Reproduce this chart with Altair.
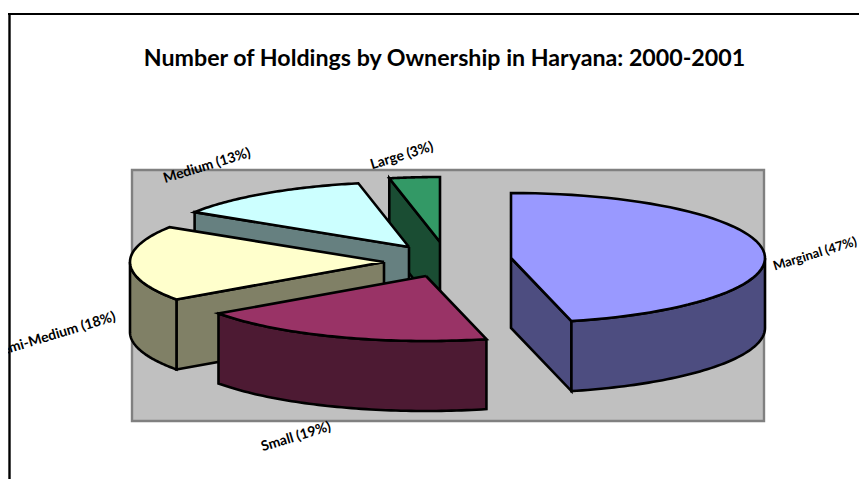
import math
import altair as alt
import pandas as pd

# --- values -----------------------------------------------------------------
categories = ["Marginal", "Small", "Semi-Medium", "Medium", "Large"]
shares = [46.2, 19.05, 18.8, 12.8, 3.2]
labels = ["Marginal (47%)", "Small (19%)", "Semi-Medium (18%)", "Medium (13%)", "Large (3%)"]
title_text = "Number of Holdings by Ownership in Haryana: 2000-2001"

# --- styles -----------------------------------------------------------------
top_colors = ["#9999FF", "#993366", "#FFFFCC", "#CCFFFF", "#339966"]
side_colors = ["#4D4D80", "#4D1A33", "#808066", "#668080", "#1A4D33"]
FONT = "Lato"

# --- layout (page pixels) ---------------------------------------------------
apex_x = [511, 426, 384, 409, 440]
apex_y = [258, 276, 262, 247, 242]
label_x = [815, 296, 55, 207, 402]
label_y = [254, 437, 335, 166, 156]
label_size = [13, 14, 14, 14, 14]
RX, RY, DEPTH = 254, 65, 70
W, H = 851, 471

xs = alt.X("x:Q", scale=alt.Scale(domain=[8, 8 + W], nice=False, zero=False), axis=None)
ys = alt.Y("y:Q", scale=alt.Scale(domain=[8 + H, 8], nice=False, zero=False), axis=None)


def rim(cx, cy, a0, a1, dy=0, n=60):
    out = []
    for i in range(n + 1):
        t = math.radians(a0 + (a1 - a0) * i / n)
        out.append((cx + RX * math.sin(t), cy - RY * math.cos(t) + dy))
    return out


def poly(points, color):
    points = list(points) + [points[0]]
    df = pd.DataFrame({"x": [p[0] for p in points], "y": [p[1] for p in points],
                       "i": list(range(len(points)))})
    return alt.Chart(df).mark_line(fill=color, stroke="black", strokeWidth=2.6,
                                   strokeJoin="miter", clip=True).encode(
        x=xs, y=ys, order="i:Q")


layers = []
plate = pd.DataFrame({"x": [132], "x2": [764], "y": [170], "y2": [421]})
layers.append(alt.Chart(plate).mark_rect(fill="#C0C0C0", stroke="#808080", strokeWidth=2.4).encode(
    x=xs, y=ys, x2="x2:Q", y2="y2:Q"))

total = sum(shares)
bounds = [0.0]
for s in shares:
    bounds.append(bounds[-1] + s / total * 360)

# painter's order: back slices first
for k in [4, 3, 2, 1, 0]:
    a0, a1 = bounds[k], bounds[k + 1]
    cx, cy = apex_x[k], apex_y[k]
    # flat cut faces that look toward the viewer
    if math.sin(math.radians(a0)) < -1e-6:
        p = rim(cx, cy, a0, a0, n=1)[0]
        layers.append(poly([(cx, cy), p, (p[0], p[1] + DEPTH), (cx, cy + DEPTH)], side_colors[k]))
    if math.sin(math.radians(a1)) > 1e-6:
        p = rim(cx, cy, a1, a1, n=1)[0]
        layers.append(poly([(cx, cy), p, (p[0], p[1] + DEPTH), (cx, cy + DEPTH)], side_colors[k]))
    # outer curved wall
    lo, hi = max(a0, 90), min(a1, 270)
    if hi > lo:
        upper = rim(cx, cy, lo, hi)
        lower = rim(cx, cy, hi, lo, dy=DEPTH)
        layers.append(poly(upper + lower, side_colors[k]))
    # top face
    layers.append(poly([(cx, cy)] + rim(cx, cy, a0, a1), top_colors[k]))

lab = pd.DataFrame({"x": label_x, "y": label_y, "t": labels, "s": label_size})
layers.append(alt.Chart(lab).mark_text(font=FONT, fontWeight="bold", angle=343,
                                       color="black", clip=True).encode(
    x=xs, y=ys, text="t:N", size=alt.Size("s:Q", scale=None, legend=None)))

ttl = pd.DataFrame({"x": [444.5], "y": [59], "t": [title_text]})
layers.append(alt.Chart(ttl).mark_text(font=FONT, fontWeight="bold", fontSize=23.2,
                                       color="black").encode(x=xs, y=ys, text="t:N"))

frame_h = pd.DataFrame({"x": [8], "x2": [8 + W], "y": [14]})
frame_v = pd.DataFrame({"x": [9.5], "y": [13], "y2": [8 + H]})
layers.append(alt.Chart(frame_h).mark_rule(color="black", strokeWidth=2.2).encode(x=xs, x2="x2:Q", y=ys))
layers.append(alt.Chart(frame_v).mark_rule(color="black", strokeWidth=2.4).encode(x=xs, y=ys, y2="y2:Q"))

chart = alt.layer(*layers).properties(
    width=W, height=H, padding=0, autosize=alt.AutoSizeParams(type="none"),
    background="white",
).configure_view(stroke=None)

chart.save("out.html", embed_options={"renderer": "svg", "actions": False})
